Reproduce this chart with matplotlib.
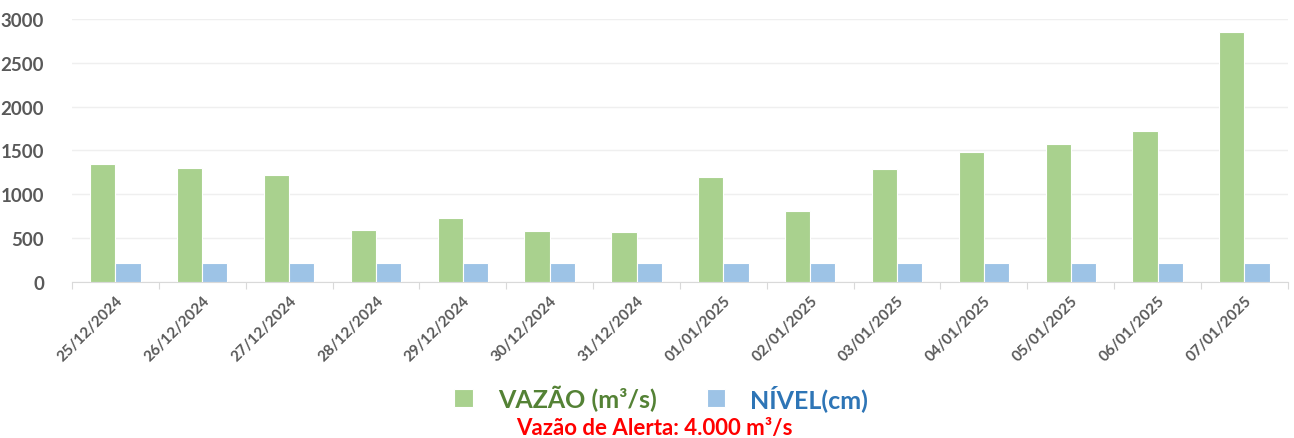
import matplotlib.pyplot as plt
import numpy as np

plt.rcParams['font.family'] = ['Lato', 'DejaVu Sans']
plt.rcParams['font.weight'] = 'bold'

datas = ["25/12/2024", "26/12/2024", "27/12/2024", "28/12/2024", "29/12/2024",
         "30/12/2024", "31/12/2024", "01/01/2025", "02/01/2025", "03/01/2025",
         "04/01/2025", "05/01/2025", "06/01/2025", "07/01/2025"]
vazao = [1350, 1300, 1220, 590, 730, 580, 570, 1200, 810, 1290, 1480, 1570, 1720, 2850]
nivel = [215, 215, 215, 215, 215, 215, 215, 215, 215, 215, 215, 215, 215, 215]

verde = '#A9D18E'
azul = '#9DC3E6'
cinza = '#595959'

fig = plt.figure(figsize=(12.94, 4.39), dpi=100)
ax = fig.add_axes([0.0556, 0.3554, 0.9397, 0.599])

x = np.arange(len(datas))
w = 0.29
b1 = ax.bar(x - w / 2, vazao, w, color=verde, edgecolor='white', linewidth=0.8,
            label='VAZÃO (m³/s)', zorder=3)
b2 = ax.bar(x + w / 2, nivel, w, color=azul, edgecolor='white', linewidth=0.8,
            label='NÍVEL(cm)', zorder=3)

ax.set_xlim(-0.5, len(datas) - 0.5)
ax.set_ylim(0, 3000)
ax.set_yticks(range(0, 3001, 500))
ax.tick_params(axis='y', length=0, labelsize=13.5, labelcolor=cinza, pad=20)
ax.grid(axis='y', color='#EFEFEF', linewidth=1, zorder=0)

# ticks between categories, labels at category centres
ax.set_xticks(np.arange(-0.5, len(datas)), minor=False)
ax.set_xticklabels([])
ax.set_xticks(x, minor=True)
ax.set_xticklabels(datas, minor=True, rotation=45, ha='right',
                   rotation_mode='anchor', fontsize=11, color=cinza)
ax.tick_params(axis='x', which='major', length=5, color='#D9D9D9')
ax.tick_params(axis='x', which='minor', length=0, pad=8)

for s in ['top', 'right', 'left']:
    ax.spines[s].set_visible(False)
ax.spines['bottom'].set_color('#D9D9D9')

leg = fig.legend(handles=[b1, b2], loc='center', bbox_to_anchor=(0.511, 0.093),
                 ncol=2, frameon=False, fontsize=18, handlelength=0.75,
                 handleheight=0.75, columnspacing=2.0, handletextpad=1.0,
                 borderpad=0)
for t, c in zip(leg.get_texts(), ['#548235', '#2E75B6']):
    t.set_color(c)

fig.text(0.506, 0.023, 'Vazão de Alerta: 4.000 m³/s', color='#FF0000',
         fontsize=16, ha='center', va='center')

fig.savefig('out.png')
